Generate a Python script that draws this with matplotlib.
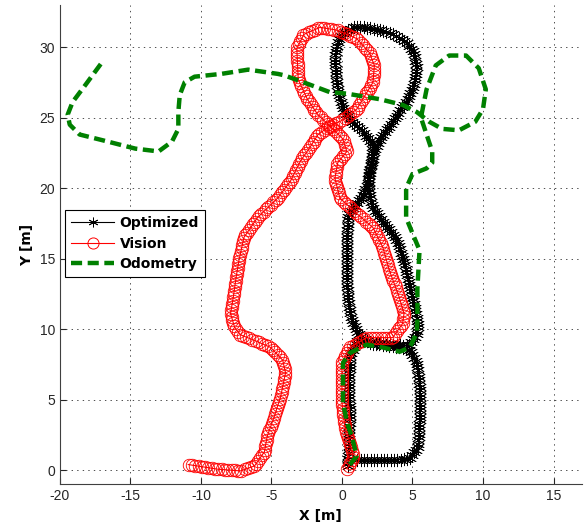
import numpy as np
import matplotlib
matplotlib.use('Agg')
import matplotlib.pyplot as plt
from matplotlib.lines import Line2D
from matplotlib.markers import MarkerStyle
from matplotlib.path import Path
from matplotlib.patheffects import AbstractPathEffect
from matplotlib.transforms import IdentityTransform

plt.rcParams['font.family'] = ['Liberation Sans', 'DejaVu Sans']
plt.rcParams['lines.scale_dashes'] = False
plt.rcParams['axes.unicode_minus'] = False

# trajectories [m]
opt_x = [0.4, 0.5, 0.55, 0.5, 0.6, 1.1, 2.0, 3.5, 4.7, 5.3, 5.4, 5.2, 5.0, 4.7, 4.45, 4.1, 3.7,
         2.9, 2.1, 1.9, 1.95, 2.3, 2.8, 3.7, 4.55, 5.1, 5.3, 5.1, 4.5, 3.6, 2.7, 1.7, 0.8, 0.0,
         -0.4, -0.5, -0.4, -0.2, 0.1, 0.7, 1.5, 2.2, 2.1, 1.8, 1.5, 1.0, 0.45, 0.35, 0.35, 0.4,
         0.6, 1.05, 2.0, 3.5, 4.7, 5.3, 5.5, 5.5, 5.4, 4.8, 3.5, 2.0, 1.0]
opt_y = [0.3, 1.5, 4.0, 6.5, 8.2, 9.2, 9.1, 8.9, 8.8, 9.6, 10.3, 11.3, 12.2, 13.5, 14.6, 15.8, 16.6,
         17.6, 18.8, 19.8, 21.2, 22.6, 23.6, 24.9, 26.1, 27.3, 28.5, 29.6, 30.4, 30.9, 31.2, 31.4, 31.4, 31.0,
         30.0, 29.0, 27.8, 26.5, 25.5, 24.7, 24.0, 23.1, 21.8, 20.3, 19.5, 18.9, 18.1, 16.5, 14.5, 12.5,
         11.0, 9.8, 9.0, 8.8, 8.6, 7.7, 6.0, 3.5, 1.7, 0.8, 0.7, 0.7, 0.7]

vis_x = [0.35, 0.8, 0.7, 0.2, 0.0, 0.0, 0.55, 1.75, 3.6, 4.3, 4.4, 4.05, 3.35, 2.9, 2.2, 1.05, -0.15,
         -0.5, -0.3, 0.35, 0.05, -0.85, -1.7, -2.45, -3.1, -3.2, -2.7, -1.55, -0.35, 1.05, 1.95, 2.3,
         2.2, 1.05, 0.0, -0.85, -1.7, -2.2, -2.95, -3.65, -4.55, -6.0, -6.95, -7.3, -7.5, -7.7, -7.9,
         -7.6, -7.2, -6.2, -5.05, -4.2, -4.0, -4.35, -4.8, -5.3, -5.5, -6.2, -7.2, -8.8, -10.9]
vis_y = [0.1, 0.8, 1.5, 3.1, 4.8, 7.6, 8.7, 9.4, 9.4, 10.4, 11.1, 12.3, 14.2, 15.8, 17.2, 18.2, 19.3,
         20.7, 21.8, 22.6, 23.5, 24.4, 25.2, 26.3, 27.7, 29.9, 30.9, 31.4, 31.2, 30.6, 29.6, 28.7,
         27.5, 25.6, 24.8, 24.4, 23.8, 23.0, 21.9, 20.5, 19.3, 17.9, 16.5, 14.9, 13.7, 12.3, 11.1,
         10.1, 9.6, 9.2, 8.7, 7.8, 6.9, 5.2, 3.8, 2.4, 1.3, 0.3, -0.05, 0.07, 0.4]

odo_x = [0.55, 1.05, 0.7, 0.35, 0.07, 0.07, 0.55, 1.75, 2.9, 4.1, 4.8, 5.3, 5.35, 5.35, 5.5, 5.0,
         4.55, 4.55, 5.0, 6.0, 6.4, 6.4, 6.1, 5.6, 6.0, 6.65, 7.6, 8.8, 9.7, 10.2, 10.0, 9.45, 8.3,
         7.1, 6.2, 5.3, 4.3, 2.7, 0.35, -0.85, -2.45, -4.1, -4.55, -6.65, -8.55, -10.45, -11.15,
         -11.5, -11.6, -11.6, -12.05, -13.0, -14.65, -17.0, -18.6, -19.3, -19.45, -19.1, -18.2, -17.1]
odo_y = [0.4, 1.0, 2.4, 3.4, 4.8, 7.6, 8.3, 8.9, 8.7, 8.4, 8.7, 9.7, 10.6, 12.9, 15.6, 16.8,
         17.9, 20.0, 21.0, 21.4, 21.8, 22.6, 23.5, 25.0, 27.0, 28.7, 29.4, 29.4, 28.5, 27.0, 25.6, 24.7, 24.1,
         24.2, 24.7, 25.4, 25.9, 26.3, 26.7, 26.8, 27.4, 28.0, 28.1, 28.4, 28.1, 27.9, 27.5,
         26.6, 25.4, 24.2, 23.3, 22.6, 22.8, 23.4, 23.8, 24.5, 25.2, 26.1, 27.3, 28.8]


class MarkerTrail(AbstractPathEffect):
    """Stamp a marker every `step` points along the drawn line (dense sampling look)."""

    def __init__(self, marker, size, step, color, lw=0.7):
        super().__init__()
        self.marker = MarkerStyle(marker)
        self.size = size
        self.step = step
        self.color = color
        self.lw = lw

    def draw_path(self, renderer, gc, tpath, affine, rgbFace=None):
        renderer.draw_path(gc, tpath, affine, rgbFace)
        xy = affine.transform(tpath.vertices)
        seg = np.hypot(*np.diff(xy, axis=0).T)
        dist = np.concatenate([[0], np.cumsum(seg)])
        at = np.arange(0, dist[-1], renderer.points_to_pixels(self.step))
        pts = np.column_stack([np.interp(at, dist, xy[:, 0]), np.interp(at, dist, xy[:, 1])])
        w = renderer.points_to_pixels(self.size)
        mtrans = self.marker.get_transform().frozen().scale(w, w)
        gc0 = renderer.new_gc()
        gc0.copy_properties(gc)
        gc0.set_foreground(self.color)
        gc0.set_linewidth(self.lw)
        gc0.set_dashes(0, None)
        renderer.draw_markers(gc0, self.marker.get_path(), mtrans, Path(pts), IdentityTransform())
        gc0.restore()


fig = plt.figure(figsize=(5.87, 5.27), dpi=100)
ax = fig.add_axes([0.102, 0.080, 0.889, 0.912])

ax.plot(opt_x, opt_y, color='k', lw=0.8,
        path_effects=[MarkerTrail((6, 2, 0), 9, 2.4, 'k', lw=0.6)])
ax.plot(vis_x, vis_y, color='r', lw=0.8,
        path_effects=[MarkerTrail('o', 9, 2.4, 'r', lw=0.6)])
ax.plot(odo_x, odo_y, color='#008000', lw=3.2, dashes=(8, 4), dash_capstyle='butt')

ax.set_xlim(-20, 17)
ax.set_ylim(-1, 33)
ax.set_aspect('equal', adjustable='box')
ax.set_xticks(np.arange(-20, 16, 5))
ax.set_yticks(np.arange(0, 31, 5))
ax.grid(True, color='0.3', linestyle=(0, (1, 3)), lw=0.7)
ax.spines['top'].set_visible(False)
ax.spines['right'].set_visible(False)
for s in ['left', 'bottom']:
    ax.spines[s].set_color('0.25')
ax.tick_params(direction='in', length=4, labelsize=10, colors='0.15')

bold = {'family': 'DejaVu Sans', 'weight': 'bold', 'size': 10}
ax.set_xlabel('X [m]', fontdict=bold)
ax.set_ylabel('Y [m]', fontdict=bold)

handles = [
    Line2D([], [], color='k', lw=0.8, marker=(6, 2, 0), markersize=7, markeredgewidth=0.6),
    Line2D([], [], color='r', lw=0.8, marker='o', markersize=8, markerfacecolor='none', markeredgewidth=0.7),
    Line2D([], [], color='#008000', lw=3.2, dashes=(8, 4)),
]
leg = ax.legend(handles, ['Optimized', 'Vision', 'Odometry'], loc='upper left',
                bbox_to_anchor=(0.0096, 0.572), borderaxespad=0, fancybox=False,
                framealpha=1, edgecolor='k', handlelength=3.1, handletextpad=0.4,
                borderpad=0.45, labelspacing=0.45, prop=bold)
leg.get_frame().set_linewidth(0.8)

fig.savefig('out.png', dpi=100)
